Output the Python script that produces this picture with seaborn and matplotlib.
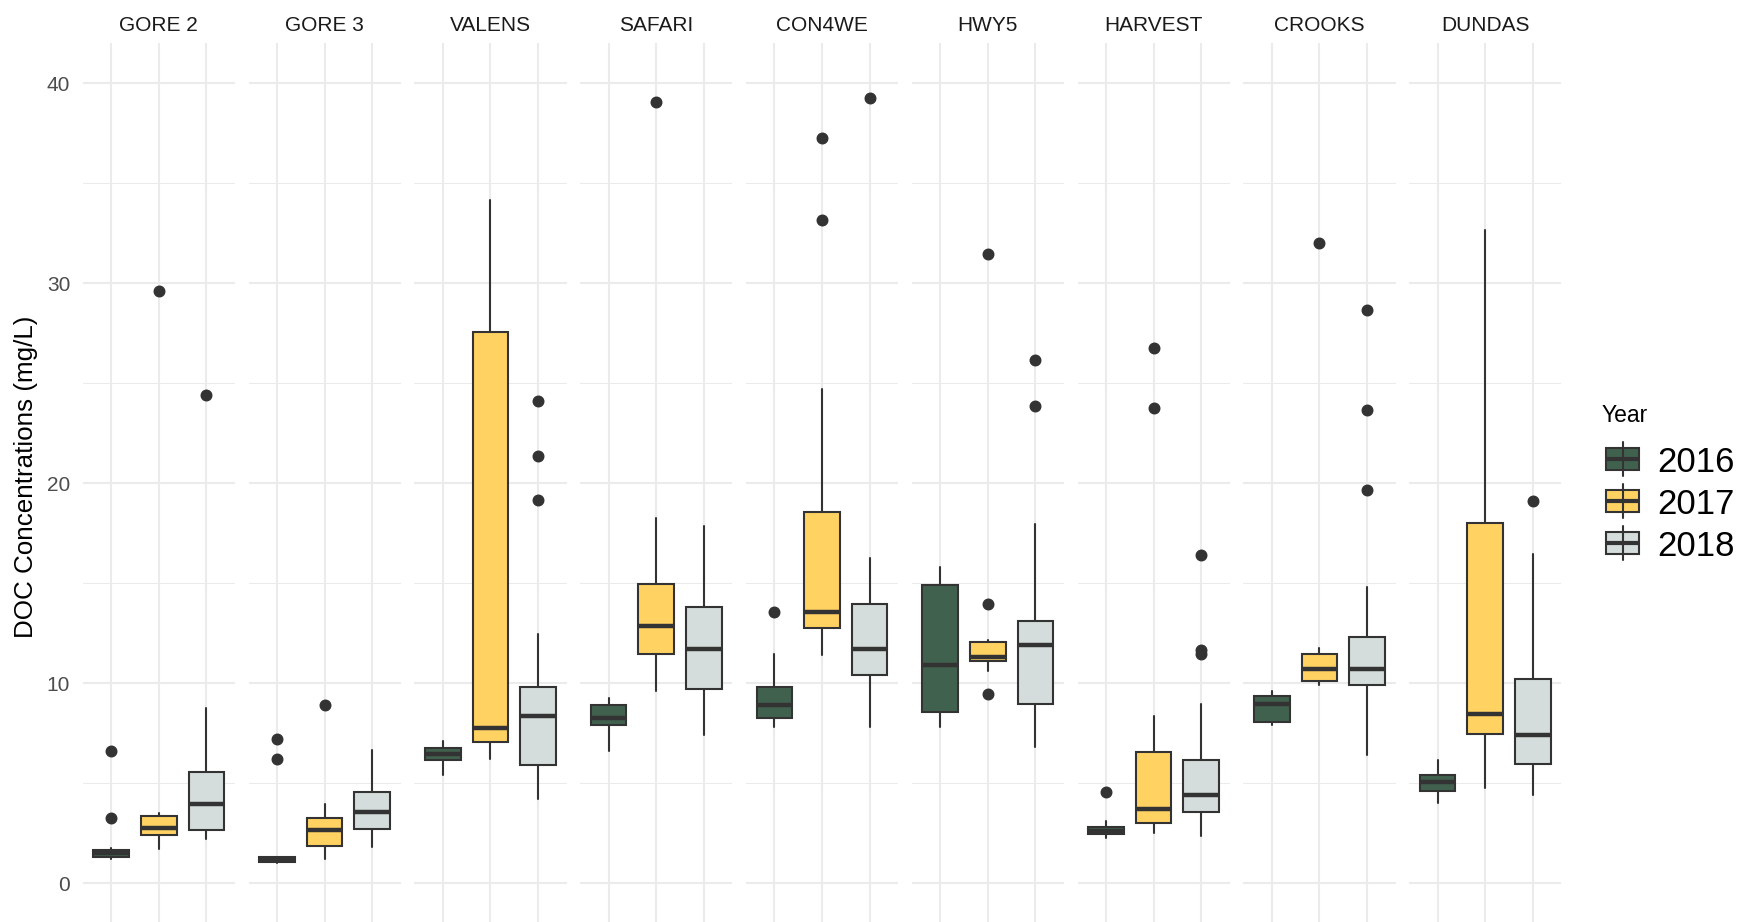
import numpy as np
import matplotlib
matplotlib.use("Agg")
import matplotlib.pyplot as plt
import seaborn as sns
from matplotlib.patches import Rectangle
from matplotlib.lines import Line2D
from matplotlib.ticker import MultipleLocator

# ---- data: boxplot summaries of DOC concentration (mg/L) per site and year ----
sites = ["GORE 2", "GORE 3", "VALENS", "SAFARI", "CON4WE",
         "HWY5", "HARVEST", "CROOKS", "DUNDAS"]
years = ["2016", "2017", "2018"]

whisker_low = [
    [1.24, 1.73, 2.20], [1.04, 1.23, 1.82], [5.41, 6.23, 4.23],
    [6.61, 9.61, 7.41], [7.82, 11.43, 7.82], [7.82, 10.62, 6.82],
    [2.26, 2.53, 2.35], [7.93, 9.93, 6.44], [4.03, 4.76, 4.44],
]
q1 = [
    [1.33, 2.41, 2.67], [1.08, 1.88, 2.73], [6.17, 7.05, 5.91],
    [7.93, 11.46, 9.70], [8.29, 12.78, 10.40], [8.58, 11.12, 8.97],
    [2.47, 3.00, 3.56], [8.08, 10.11, 9.90], [4.64, 7.49, 5.99],
]
median = [
    [1.52, 2.79, 3.97], [1.18, 2.67, 3.56], [6.49, 7.76, 8.37],
    [8.26, 12.87, 11.72], [8.93, 13.58, 11.72], [10.91, 11.32, 11.92],
    [2.64, 3.73, 4.41], [8.96, 10.70, 10.73], [5.05, 8.49, 7.41],
]
q3 = [
    [1.69, 3.38, 5.58], [1.30, 3.29, 4.55], [6.79, 27.59, 9.84],
    [8.93, 14.96, 13.81], [9.81, 18.57, 13.99], [14.93, 12.08, 13.11],
    [2.82, 6.58, 6.17], [9.37, 11.49, 12.31], [5.41, 18.01, 10.20],
]
whisker_high = [
    [1.78, 3.53, 8.79], [1.34, 3.97, 6.67], [7.14, 34.15, 12.46],
    [9.26, 18.28, 17.87], [11.49, 24.74, 16.28], [15.84, 12.17, 17.98],
    [3.14, 8.35, 8.96], [9.61, 11.75, 14.84], [6.17, 32.65, 16.49],
]
outliers = [
    [[3.29, 6.61], [29.6], [24.4]],
    [[6.2, 7.2], [8.9], []],
    [[], [], [19.19, 21.39, 24.1]],
    [[], [39.08], []],
    [[13.58], [33.18, 37.29], [39.29]],
    [[], [9.49, 13.98, 31.47], [23.89, 26.18]],
    [[4.58], [23.77, 26.77], [11.45, 11.65, 16.40]],
    [[], [32.0], [19.69, 23.68, 28.68]],
    [[], [], [19.10]],
]

# ---- style ----
sns.set_theme(style="whitegrid")
plt.rcParams["font.family"] = ["Liberation Sans", "DejaVu Sans"]

palette = sns.color_palette(["#41614F", "#FFD262", "#D4DDDB"])
edge = "#333333"
grid_col = "#EBEBEB"

W, H = 1742, 922
fig = plt.figure(figsize=(W / 100, H / 100), dpi=100, facecolor="white")

left_px, top_px = 82.7, 43.3
panel_w, gap = 152.2, 13.6
bottom_px = H

for i, site in enumerate(sites):
    x0 = left_px + i * (panel_w + gap)
    ax = fig.add_axes([x0 / W, 1 - bottom_px / H, panel_w / W, (bottom_px - top_px) / H])
    ax.set_facecolor("white")

    stats = []
    for j in range(3):
        stats.append(dict(
            whislo=whisker_low[i][j], q1=q1[i][j], med=median[i][j],
            q3=q3[i][j], whishi=whisker_high[i][j],
            fliers=np.array(outliers[i][j], dtype=float),
        ))
    bp = ax.bxp(
        stats, positions=[1, 2, 3], widths=0.75, patch_artist=True,
        showcaps=False, manage_ticks=False,
        boxprops=dict(edgecolor=edge, linewidth=1.5),
        medianprops=dict(color=edge, linewidth=3.2, solid_capstyle="butt"),
        whiskerprops=dict(color=edge, linewidth=1.5),
        flierprops=dict(marker="o", markerfacecolor=edge, markeredgecolor=edge,
                        markersize=7.6, linestyle="none"),
    )
    for patch, col in zip(bp["boxes"], palette):
        patch.set_facecolor(col)

    ax.set_xlim(0.4, 3.6)
    ax.set_ylim(-1.93, 42.0)
    ax.set_xticks([1, 2, 3])
    ax.yaxis.set_major_locator(MultipleLocator(10))
    ax.yaxis.set_minor_locator(MultipleLocator(5))
    ax.set_axisbelow(True)
    ax.grid(which="major", color=grid_col, linewidth=1.45)
    ax.grid(which="minor", axis="y", color=grid_col, linewidth=0.75)
    ax.tick_params(axis="both", which="both", length=0)
    ax.tick_params(axis="x", labelbottom=False)
    if i == 0:
        ax.tick_params(axis="y", labelleft=True, labelsize=15, labelcolor="#4D4D4D", pad=9)
    else:
        ax.tick_params(axis="y", labelleft=False)
    for s in ax.spines.values():
        s.set_visible(False)

    fig.text((x0 + panel_w / 2) / W, 1 - 30.7 / H, site, ha="center", va="baseline",
             fontsize=15, color="#1A1A1A")

fig.text(26 / W, 1 - 477 / H, "DOC Concentrations (mg/L)", rotation=90,
         ha="center", va="center", fontsize=18.7, color="black")

# ---- legend drawn in pixel coordinates ----
lax = fig.add_axes([0, 0, 1, 1], facecolor="none")
lax.set_xlim(0, W)
lax.set_ylim(H, 0)
lax.axis("off")
lax.text(1602, 415, "Year", ha="left", va="center", fontsize=16.5, color="black")
row_y = [459, 501, 543]
for yc, col, lab in zip(row_y, palette, years):
    lax.add_line(Line2D([1622.5, 1622.5], [yc - 17, yc + 17], color=edge, lw=1.5))
    lax.add_patch(Rectangle((1606, yc - 11), 33, 22, facecolor=col, edgecolor=edge, lw=1.5))
    lax.add_line(Line2D([1606, 1639], [yc, yc], color=edge, lw=3.0, solid_capstyle="butt"))
    lax.text(1657, yc, lab, ha="left", va="center_baseline", fontsize=25, color="black")

fig.savefig("out.png", dpi=100, facecolor="white")
